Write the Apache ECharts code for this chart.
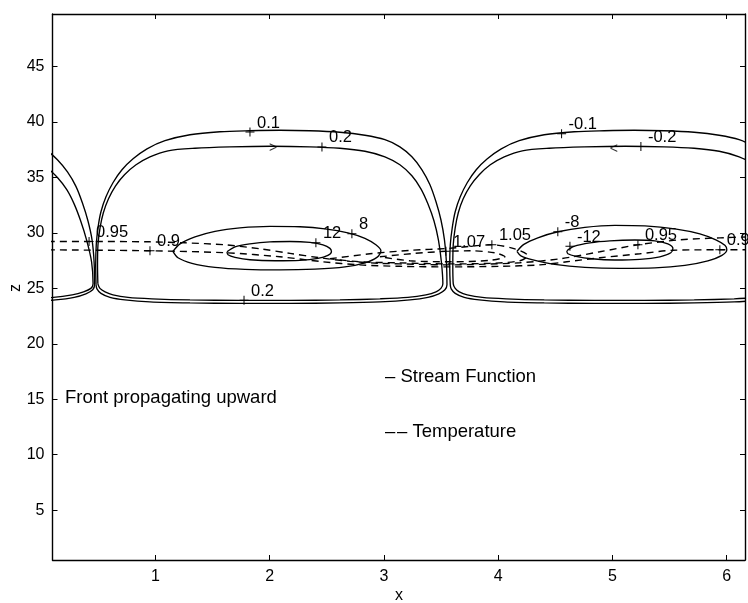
<!DOCTYPE html>
<html><head><meta charset="utf-8">
<script src="https://cdn.jsdelivr.net/npm/echarts@6/dist/echarts.min.js"></script>
<style>html,body{margin:0;padding:0;background:#fff}#c{width:748px;height:603px}</style>
</head><body><div id="c"></div>
<script>
// ---------- axes ----------
const xTicks = [1, 2, 3, 4, 5, 6];
const zTicks = [5, 10, 15, 20, 25, 30, 35, 40, 45];
const xRange = [0.1, 6.16];
const zRange = [0.5, 49.75];

// ---------- stream function contours (solid) ----------
const psiCell1Outer = [[0.481,25.32],[0.478,27.12],[0.483,28.93],[0.498,30.46],[0.524,31.91],[0.568,33.26],[0.629,34.53],[0.708,35.70],[0.805,36.69],[0.927,37.59],[1.084,38.32],[1.303,38.86],[1.565,39.13],[1.828,39.22],[2.090,39.26],[2.353,39.22],[2.615,39.08],[2.834,38.81],[3.009,38.41],[3.140,37.77],[3.245,36.87],[3.333,35.70],[3.403,34.35],[3.456,32.81],[3.499,31.19],[3.530,29.38],[3.547,27.40],[3.552,25.32],[3.534,24.87],[3.481,24.51],[3.385,24.19],[3.228,23.96],[2.965,23.78],[2.615,23.69],[2.178,23.65],[1.740,23.65],[1.303,23.69],[0.953,23.78],[0.734,23.96],[0.603,24.19],[0.524,24.55],[0.489,24.96],[0.481,25.32]];
const psiCell1Inner = [[0.497,25.41],[0.494,27.12],[0.498,28.93],[0.516,30.46],[0.545,31.82],[0.590,33.08],[0.652,34.25],[0.730,35.25],[0.831,36.15],[0.953,36.87],[1.111,37.41],[1.347,37.64],[1.653,37.76],[2.012,37.82],[2.353,37.77],[2.615,37.64],[2.834,37.37],[3.009,36.87],[3.140,36.15],[3.245,35.16],[3.324,33.98],[3.385,32.63],[3.438,31.10],[3.477,29.38],[3.503,27.40],[3.516,25.41],[3.499,25.00],[3.456,24.69],[3.368,24.42],[3.210,24.19],[2.965,24.06],[2.615,23.96],[2.178,23.92],[1.740,23.92],[1.303,23.96],[0.970,24.06],[0.761,24.19],[0.629,24.42],[0.560,24.69],[0.515,25.00],[0.497,25.41]];
const psiCell2Outer = [[6.328,23.96],[6.065,23.78],[5.715,23.69],[5.278,23.65],[4.840,23.65],[4.403,23.69],[4.053,23.78],[3.834,23.96],[3.703,24.19],[3.624,24.55],[3.589,24.96],[3.581,25.32],[3.576,27.12],[3.581,28.93],[3.598,30.46],[3.624,31.91],[3.668,33.26],[3.729,34.53],[3.808,35.70],[3.905,36.69],[4.027,37.59],[4.184,38.32],[4.403,38.86],[4.665,39.13],[4.928,39.22],[5.190,39.26],[5.453,39.22],[5.715,39.08],[5.934,38.81],[6.109,38.41],[6.240,37.77],[6.345,36.87]];
const psiCell2Inner = [[6.310,24.19],[6.065,24.06],[5.715,23.96],[5.278,23.92],[4.840,23.92],[4.403,23.96],[4.070,24.06],[3.861,24.19],[3.729,24.42],[3.660,24.69],[3.624,25.00],[3.607,25.41],[3.603,27.12],[3.607,28.93],[3.624,30.46],[3.651,31.82],[3.694,33.08],[3.756,34.25],[3.834,35.25],[3.931,36.15],[4.053,36.87],[4.211,37.41],[4.447,37.64],[4.753,37.76],[5.112,37.82],[5.453,37.77],[5.715,37.64],[5.934,37.37],[6.109,36.87],[6.240,36.15],[6.345,35.16]];
const psiLeftOuter = [[-0.268,38.81],[-0.093,38.41],[0.038,37.55],[0.143,36.60],[0.231,35.50],[0.305,34.20],[0.362,32.70],[0.410,31.10],[0.446,29.38],[0.464,27.40],[0.468,25.32],[0.452,24.87],[0.392,24.51],[0.290,24.19],[0.126,23.96],[-0.137,23.78]];
const psiLeftInner = [[-0.268,37.37],[-0.093,36.87],[0.038,36.00],[0.143,35.00],[0.225,33.90],[0.290,32.60],[0.346,31.10],[0.398,29.38],[0.442,27.40],[0.455,25.41],[0.436,25.00],[0.372,24.69],[0.272,24.42],[0.108,24.19],[-0.137,24.06]];
const psiCell1Core8 = [[1.154,28.34],[1.216,29.02],[1.347,29.65],[1.522,30.15],[1.740,30.46],[2.003,30.60],[2.265,30.56],[2.484,30.37],[2.685,30.01],[2.834,29.52],[2.930,28.93],[2.974,28.39],[2.939,27.80],[2.834,27.31],[2.659,26.94],[2.397,26.74],[2.090,26.67],[1.784,26.72],[1.522,26.90],[1.320,27.26],[1.198,27.76],[1.154,28.34]];
const psiCell1Core12 = [[1.627,28.30],[1.697,28.75],[1.828,29.02],[2.003,29.20],[2.178,29.23],[2.353,29.15],[2.467,28.93],[2.528,28.61],[2.541,28.30],[2.510,27.98],[2.423,27.71],[2.265,27.53],[2.047,27.49],[1.828,27.58],[1.697,27.80],[1.636,28.03],[1.627,28.30]];
const psiCell2Core8 = [[4.164,28.34],[4.225,28.97],[4.347,29.56],[4.522,30.11],[4.759,30.51],[5.021,30.69],[5.284,30.64],[5.546,30.37],[5.765,29.92],[5.905,29.38],[5.984,28.88],[6.001,28.48],[5.958,27.98],[5.835,27.49],[5.634,27.08],[5.371,26.85],[5.065,26.81],[4.759,26.90],[4.496,27.17],[4.304,27.58],[4.199,27.94],[4.164,28.34]];
const psiCell2Core12 = [[4.601,28.39],[4.663,28.79],[4.803,29.11],[4.978,29.29],[5.196,29.36],[5.371,29.29],[5.485,29.02],[5.529,28.61],[5.511,28.21],[5.415,27.85],[5.240,27.62],[5.021,27.56],[4.820,27.67],[4.680,27.89],[4.610,28.12],[4.601,28.39]];

// ---------- temperature contours (dashed) ----------
const temp095 = [[0.06,29.23],[0.428,29.23],[0.953,29.20],[1.259,29.11],[1.609,28.93],[1.915,28.57],[2.178,28.16],[2.440,27.76],[2.703,27.44],[2.965,27.26],[3.315,27.17],[3.569,27.12],[3.840,27.17],[4.190,27.31],[4.540,27.67],[4.890,28.30],[5.223,28.93],[5.590,29.38],[5.940,29.56],[6.203,29.65]];
const temp090 = [[0.06,28.48],[0.953,28.39],[1.627,28.21],[2.090,27.85],[2.467,27.40],[2.790,27.12],[3.140,26.99],[3.569,26.94],[4.015,26.99],[4.365,27.12],[4.601,27.40],[4.890,27.76],[5.240,28.12],[5.529,28.44],[5.940,28.48],[6.203,28.48]];
const temp105 = [[2.528,27.67],[2.878,28.12],[3.228,28.43],[3.569,28.61],[3.945,28.93],[4.146,28.57],[4.260,27.94],[4.190,27.49],[3.928,27.26],[3.569,27.21],[3.140,27.30],[2.790,27.40],[2.528,27.67]];
const temp107 = [[2.965,27.85],[3.272,28.16],[3.543,28.34],[3.753,28.39],[3.972,28.21],[4.059,27.85],[3.928,27.53],[3.569,27.40],[3.228,27.49],[2.965,27.85]];

// ---------- contour labels: [x, z, text] at the "+" mark ----------
const contourLabels = [
  [1.828,39.10,'0.1'], [2.458,37.76,'0.2'], [1.776,23.92,'0.2'],
  [4.555,38.95,'-0.1'], [5.249,37.80,'-0.2'],
  [2.405,29.11,'12'], [2.720,29.92,'8'],
  [4.522,30.11,'-8'], [4.628,28.79,'-12'],
  [0.420,29.23,'0.95'], [0.953,28.39,'0.9'],
  [3.543,28.34,'1.07'], [3.945,28.93,'1.05'],
  [5.223,28.93,'0.95'], [5.940,28.48,'0.9']
];
const flowArrows = [[2.030,37.68,'>'], [5.013,37.59,'<']];

const FONT = "'Liberation Sans', Arial, Helvetica, sans-serif";
const chart = echarts.init(document.getElementById('c'), null, {renderer: 'canvas'});

function contourSeries(data, dashed) {
  return {
    type: 'line', data: data, showSymbol: false, symbol: 'none', smooth: 0.3,
    clip: true, silent: true, animation: false,
    lineStyle: {color: '#000', width: dashed ? 1.4 : 1.35, type: dashed ? [7, 5] : 'solid'}
  };
}

const solid = [psiCell1Outer, psiCell1Inner, psiCell2Outer, psiCell2Inner, psiLeftOuter, psiLeftInner,
  psiCell1Core8, psiCell1Core12, psiCell2Core8, psiCell2Core12];
const dashed = [temp095, temp090, temp105, temp107];

const series = [];
solid.forEach(d => series.push(contourSeries(d, false)));
dashed.forEach(d => series.push(contourSeries(d, true)));
series.push({
  type: 'scatter', data: contourLabels.map(p => [p[0], p[1], p[2]]),
  symbol: 'path://M4,0h1v9h-1zM0,4h9v1h-9z', symbolSize: 9, clip: true, animation: false, silent: true,
  itemStyle: {color: '#000', opacity: 1},
  label: {show: true, position: 'inside', align: 'left', verticalAlign: 'middle', offset: [7, -9],
    formatter: p => p.data[2], color: '#000', fontSize: 16.5, fontFamily: FONT,
    textBorderWidth: 0, textBorderColor: 'transparent', opacity: 1},
  z: 5
});
series.push({
  type: 'scatter', data: flowArrows.map(p => [p[0], p[1], p[2]]), symbolSize: 1, animation: false, silent: true,
  itemStyle: {color: 'rgba(0,0,0,0)'},
  label: {show: true, position: 'inside', align: 'center', verticalAlign: 'middle',
    formatter: p => p.data[2], color: '#000', fontSize: 14, fontFamily: FONT,
    textBorderWidth: 0, textBorderColor: 'transparent'},
  z: 5
});

function xAxisDef(pos, labels) {
  return {
    type: 'value', position: pos, min: xRange[0], max: xRange[1], splitNumber: 6,
    axisLine: {show: true, onZero: false, lineStyle: {color: '#000', width: 1.4}},
    axisTick: {show: true, inside: true, length: 5, lineStyle: {color: '#000', width: 1}},
    axisLabel: {show: labels, margin: 9, color: '#000', fontSize: 16, fontFamily: FONT,
      formatter: v => xTicks.indexOf(Math.round(v * 1000) / 1000) >= 0 ? String(v) : ''},
    splitLine: {show: false}
  };
}
function yAxisDef(pos, labels) {
  return {
    type: 'value', position: pos, min: zRange[0], max: zRange[1], splitNumber: 10,
    axisLine: {show: true, onZero: false, lineStyle: {color: '#000', width: 1.4}},
    axisTick: {show: true, inside: true, length: 5, lineStyle: {color: '#000', width: 1}},
    axisLabel: {show: labels, margin: 8, color: '#000', fontSize: 16, fontFamily: FONT,
      formatter: v => zTicks.indexOf(Math.round(v * 1000) / 1000) >= 0 ? String(v) : ''},
    splitLine: {show: false}
  };
}

chart.setOption({
  animation: false,
  backgroundColor: '#fff',
  grid: {left: 52.5, right: 3, top: 14, bottom: 43, containLabel: false},
  xAxis: [xAxisDef('bottom', true), xAxisDef('top', false)],
  yAxis: [yAxisDef('left', true), yAxisDef('right', false)],
  series: series,
  graphic: [
    {type: 'text', x: 65, y: 398, style: {text: 'Front propagating upward', font: '18.5px ' + FONT, fill: '#000', verticalAlign: 'middle', align: 'left'}},
    {type: 'text', x: 385, y: 377, style: {text: '\u2013 Stream Function', font: '18.5px ' + FONT, fill: '#000', verticalAlign: 'middle', align: 'left'}},
    {type: 'text', x: 385, y: 432, style: {text: '\u2013', font: '18.5px ' + FONT, fill: '#000', verticalAlign: 'middle', align: 'left'}},
    {type: 'text', x: 397, y: 432, style: {text: '\u2013 Temperature', font: '18.5px ' + FONT, fill: '#000', verticalAlign: 'middle', align: 'left'}},
    {type: 'text', x: 399, y: 596, style: {text: 'x', font: '16px ' + FONT, fill: '#000', verticalAlign: 'middle', align: 'center'}},
    {type: 'text', x: 16, y: 288, rotation: Math.PI / 2, style: {text: 'z', font: '16px ' + FONT, fill: '#000', verticalAlign: 'middle', align: 'center'}}
  ]
});
</script>
</body></html>
